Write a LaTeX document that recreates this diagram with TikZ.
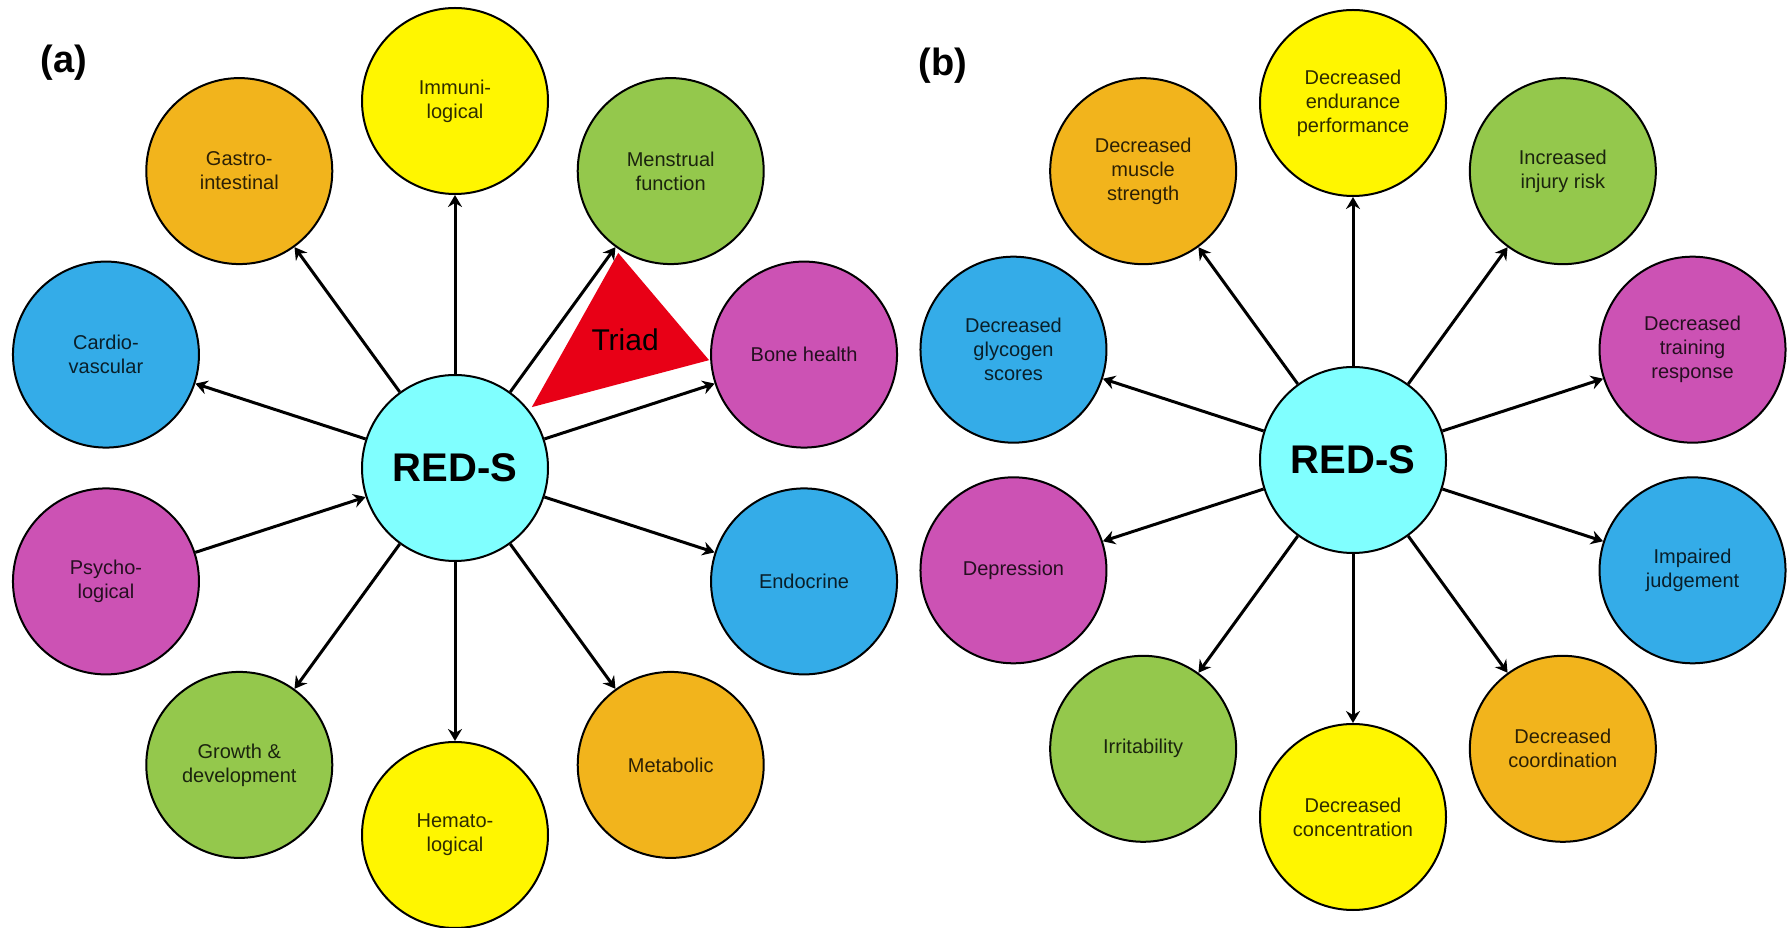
\documentclass[tikz,border=0pt]{standalone}
\usepackage{fontspec}
\setmainfont{Liberation Sans}
\usetikzlibrary{arrows.meta}

\definecolor{hubcyan}{RGB}{128,255,255}
\definecolor{yel}{RGB}{255,246,0}
\definecolor{org}{RGB}{242,180,28}
\definecolor{blu}{RGB}{52,172,232}
\definecolor{mag}{RGB}{204,82,180}
\definecolor{grn}{RGB}{148,200,76}
\definecolor{triadred}{RGB}{232,0,22}

\begin{document}
\begin{tikzpicture}[x=0.5pt,y=0.5pt,
  bubble/.style={circle,draw=black,line width=1pt,fill=#1,text=#1!18!black,
    minimum size=93pt,inner sep=0pt,align=center,
    font=\fontsize{10pt}{12pt}\selectfont},
  hub/.style={circle,draw=black,line width=1pt,fill=hubcyan,minimum size=93pt,
    inner sep=0pt,font=\fontsize{20pt}{24pt}\selectfont\bfseries},
  spoke/.style={-{Stealth[length=6pt,width=7pt,inset=2pt]},line width=1.5pt},
  panel/.style={font=\fontsize{19pt}{22pt}\selectfont\bfseries}]
\useasboundingbox (0,0) rectangle (1789,927);

% (a)
\node[panel] (labela) at (64,864) {(a)};
\begin{scope}[shift={(455,459)}]
\fill [triadred] (38.4:98) -- (52.8:270) -- (23:276) -- cycle;
\node[font=\fontsize{15pt}{18pt}\selectfont] (triad) at (37:213) {Triad};
\node[hub] (reda) at (0,0) {RED-S};
\node[bubble=yel] (immuno) at (90:367) {Immuni-\\logical};
\node[bubble=org] (gastro) at (126:367) {Gastro-\\intestinal};
\node[bubble=blu] (cardio) at (162:367) {Cardio-\\vascular};
\node[bubble=mag] (psycho) at (198:367) {Psycho-\\logical};
\node[bubble=grn] (growth) at (234:367) {Growth \&\\development};
\node[bubble=yel] (hemato) at (270:367) {Hemato-\\logical};
\node[bubble=org] (metab) at (306:367) {Metabolic};
\node[bubble=blu] (endo) at (342:367) {Endocrine};
\node[bubble=mag] (bone) at (18:367) {Bone health};
\node[bubble=grn] (menstr) at (54:367) {Menstrual\\function};
\end{scope}
\draw [spoke] (reda) -- (immuno);
\draw [spoke] (reda) -- (gastro);
\draw [spoke] (reda) -- (cardio);
\draw [spoke,{Stealth[length=6pt,width=7pt,inset=2pt]}-] (reda) -- (psycho);
\draw [spoke] (reda) -- (growth);
\draw [spoke] (reda) -- (hemato);
\draw [spoke] (reda) -- (metab);
\draw [spoke] (reda) -- (endo);
\draw [spoke] (reda) -- (bone);
\draw [spoke] (reda) -- (menstr);

% (b)
\node[panel] (labelb) at (943,861) {(b)};
\begin{scope}[shift={(1353,467)}]
\node[hub] (redb) at (0,0) {RED-S};
\node[bubble=yel] (endur) at (90:357) {Decreased\\endurance\\performance};
\node[bubble=org] (muscle) at (126:357) {Decreased\\muscle\\strength};
\node[bubble=blu] (glyco) at (162:357) {Decreased\\glycogen\\scores};
\node[bubble=mag] (depress) at (198:357) {Depression};
\node[bubble=grn] (irrit) at (234:357) {Irritability};
\node[bubble=yel] (concen) at (270:357) {Decreased\\concentration};
\node[bubble=org] (coord) at (306:357) {Decreased\\coordination};
\node[bubble=blu] (judge) at (342:357) {Impaired\\judgement};
\node[bubble=mag] (training) at (18:357) {Decreased\\training\\response};
\node[bubble=grn] (injury) at (54:357) {Increased\\injury risk};
\end{scope}
\draw [spoke] (redb) -- (endur);
\draw [spoke] (redb) -- (muscle);
\draw [spoke] (redb) -- (glyco);
\draw [spoke] (redb) -- (depress);
\draw [spoke] (redb) -- (irrit);
\draw [spoke] (redb) -- (concen);
\draw [spoke] (redb) -- (coord);
\draw [spoke] (redb) -- (judge);
\draw [spoke] (redb) -- (training);
\draw [spoke] (redb) -- (injury);
\end{tikzpicture}
\end{document}
